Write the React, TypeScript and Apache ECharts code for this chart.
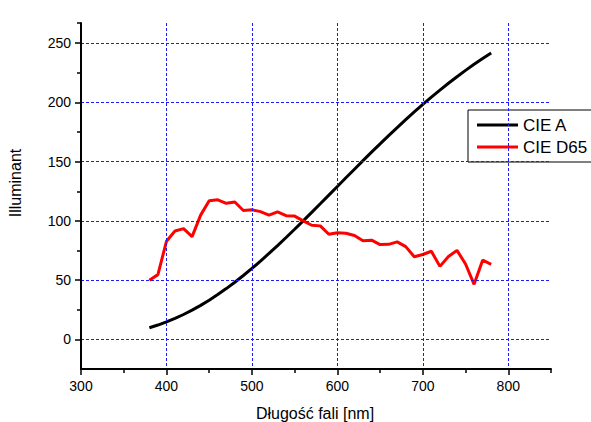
import React, { useEffect, useRef } from "react";
import * as echarts from "echarts";

const wavelengths = [380, 390, 400, 410, 420, 430, 440, 450, 460, 470, 480, 490, 500, 510, 520, 530, 540, 550, 560, 570, 580, 590, 600, 610, 620, 630, 640, 650, 660, 670, 680, 690, 700, 710, 720, 730, 740, 750, 760, 770, 780];
const cieA = [9.8, 12.09, 14.71, 17.68, 20.99, 24.67, 28.7, 33.09, 37.81, 42.87, 48.24, 53.91, 59.86, 66.06, 72.5, 79.13, 85.95, 92.91, 100.0, 107.18, 114.44, 121.73, 129.04, 136.35, 143.62, 150.84, 157.98, 165.03, 171.96, 178.77, 185.43, 191.93, 198.26, 204.41, 210.36, 216.12, 221.67, 227.0, 232.12, 237.01, 241.68];
const cieD65 = [49.98, 54.65, 82.75, 91.49, 93.43, 86.68, 104.86, 117.01, 117.81, 114.86, 115.92, 108.81, 109.35, 107.8, 104.79, 107.69, 104.41, 104.05, 100.0, 96.33, 95.79, 88.69, 90.01, 89.6, 87.7, 83.29, 83.7, 80.03, 80.21, 82.28, 78.28, 69.72, 71.61, 74.35, 61.6, 69.89, 75.09, 63.59, 46.42, 66.81, 63.38];

const xMajorTicks = [300, 400, 500, 600, 700, 800];
const xMinorTicks = [350, 450, 550, 650, 750, 850];
const yMajorTicks = [0, 50, 100, 150, 200, 250];
const yMinorTicks = [25, 75, 125, 175, 225];

const X_MIN = 300;
const X_MAX = 850;
const Y_MIN = -25;
const Y_MAX = 267;

const FONT = "Arial, 'Liberation Sans', sans-serif";

export default function App() {
  const ref = useRef<HTMLDivElement>(null);
  useEffect(() => {
    if (!ref.current) return;
    const chart = echarts.init(ref.current, undefined, { renderer: "svg" });
    const splitLine = () => ({
      show: true,
      lineStyle: { color: "#1a1aff", width: 1, type: [3, 2] as any },
    });
    const axisLine = () => ({ show: true, onZero: false, lineStyle: { color: "#000", width: 2 } });
    chart.setOption({
      animation: false,
      backgroundColor: "#fff",
      grid: { left: 81, right: 40, top: 23, bottom: 53, containLabel: false },
      xAxis: [
        {
          type: "value",
          min: X_MIN,
          max: X_MAX,
          position: "bottom",
          axisLine: axisLine(),
          axisTick: { show: true, customValues: xMajorTicks, length: 6, lineStyle: { color: "#000", width: 1.5 } },
          axisLabel: { customValues: xMajorTicks, color: "#000", fontSize: 14, fontFamily: FONT, margin: 10 },
          splitLine: splitLine(),
          z: 5,
        },
        {
          type: "value",
          min: X_MIN,
          max: X_MAX,
          position: "bottom",
          axisLine: { show: false, onZero: false },
          axisTick: { show: true, customValues: xMinorTicks, length: 4, lineStyle: { color: "#000", width: 1.5 } },
          axisLabel: { show: false },
          splitLine: { show: false },
        },
      ],
      yAxis: [
        {
          type: "value",
          min: Y_MIN,
          max: Y_MAX,
          position: "left",
          axisLine: axisLine(),
          axisTick: { show: true, customValues: yMajorTicks, length: 6, lineStyle: { color: "#000", width: 1.5 } },
          axisLabel: { customValues: yMajorTicks, color: "#000", fontSize: 14, fontFamily: FONT, margin: 10 },
          splitLine: splitLine(),
          z: 5,
        },
        {
          type: "value",
          min: Y_MIN,
          max: Y_MAX,
          position: "left",
          axisLine: { show: false, onZero: false },
          axisTick: { show: true, customValues: [...yMinorTicks, Y_MAX], length: 4, lineStyle: { color: "#000", width: 1.5 } },
          axisLabel: { show: false },
          splitLine: { show: false },
        },
      ],
      legend: {
        orient: "vertical",
        left: 468,
        top: 110,
        padding: [6, 5, 6, 9],
        itemWidth: 41,
        itemHeight: 3,
        itemGap: 4,
        icon: "rect",
        borderColor: "#000",
        borderWidth: 1,
        backgroundColor: "#fff",
        textStyle: { fontSize: 17, color: "#000", fontFamily: FONT, lineHeight: 18 },
        data: ["CIE A", "CIE D65"],
      },
      graphic: [
        {
          type: "text",
          x: 15,
          y: 183,
          rotation: Math.PI / 2,
          style: { text: "Illuminant", fontSize: 16, fontFamily: FONT, fill: "#000", align: "center", verticalAlign: "middle" },
        },
        {
          type: "text",
          x: 315,
          y: 413,
          style: { text: "Długość fali [nm]", fontSize: 16, fontFamily: FONT, fill: "#000", align: "center", verticalAlign: "middle" },
        },
      ],
      series: [
        {
          name: "CIE A",
          type: "line",
          data: wavelengths.map((w, i) => [w, cieA[i]]),
          showSymbol: false,
          symbol: "none",
          lineStyle: { color: "#000", width: 3 },
          itemStyle: { color: "#000" },
          z: 3,
        },
        {
          name: "CIE D65",
          type: "line",
          data: wavelengths.map((w, i) => [w, cieD65[i]]),
          showSymbol: false,
          symbol: "none",
          lineStyle: { color: "#ff0000", width: 3 },
          itemStyle: { color: "#ff0000" },
          z: 3,
        },
      ],
    });
    return () => chart.dispose();
  }, []);
  return <div ref={ref} style={{ position: "fixed", left: 0, top: 0, width: 591, height: 422 }} />;
}
